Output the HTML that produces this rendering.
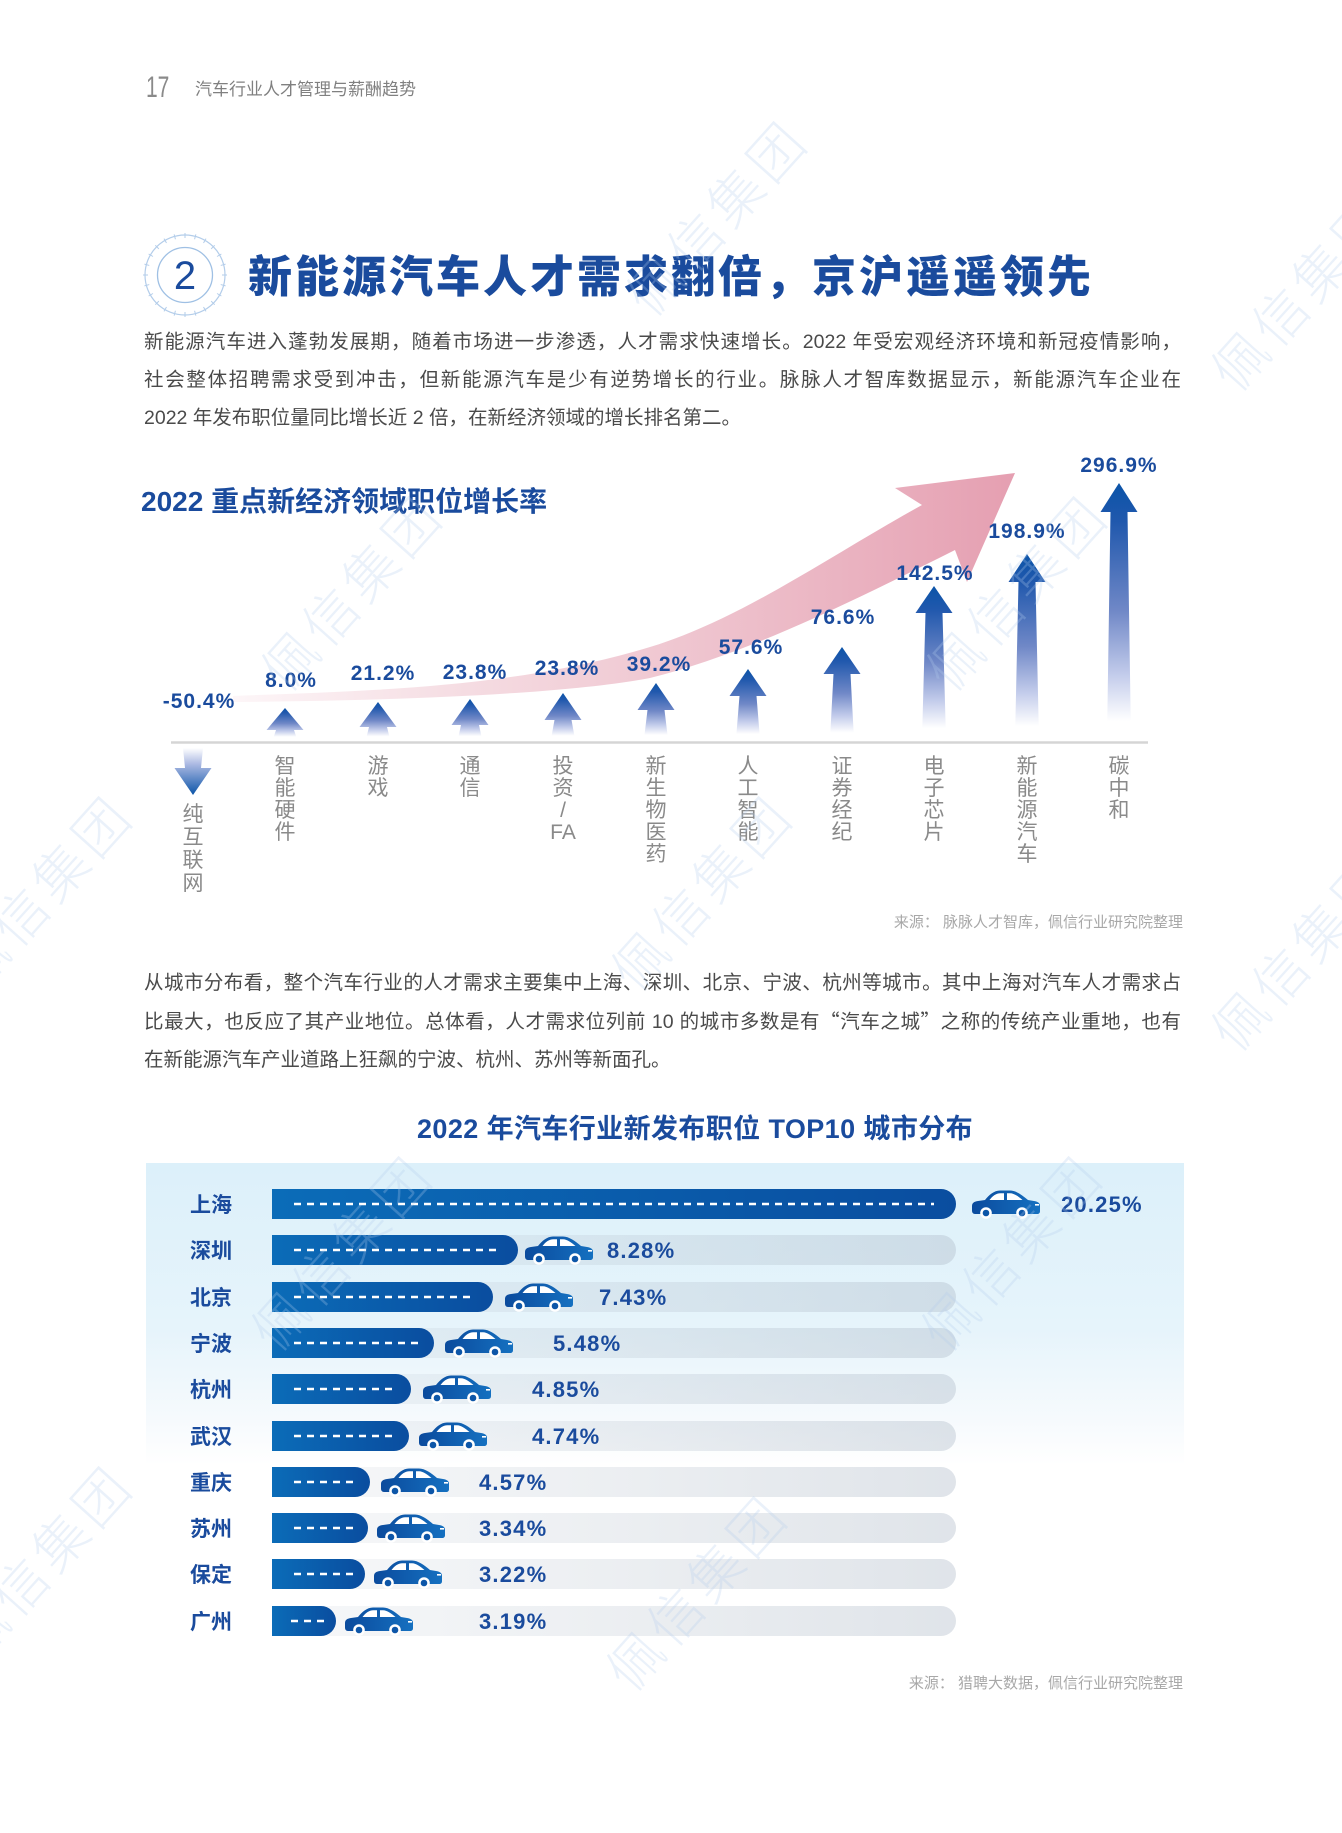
<!DOCTYPE html>
<html lang="zh">
<head>
<meta charset="utf-8">
<style>
  html,body{margin:0;padding:0;background:#fff;}
  body{width:1342px;height:1833px;position:relative;overflow:hidden;font-family:"Liberation Sans","Noto Sans CJK SC",sans-serif;}
  .abs{position:absolute;}
  .para{position:absolute;left:144px;width:1037px;font-size:19.5px;line-height:38px;color:#4a4a4a;font-family:"Liberation Sans","Noto Sans CJK SC",sans-serif;}
  .para div{height:38px;white-space:nowrap;}
  .para .j{text-align:justify;text-align-last:justify;}
  .q{font-family:"Noto Sans CJK SC",sans-serif;line-height:0;}
  .vl{position:absolute;width:40px;text-align:center;font-size:21px;line-height:22px;color:#8a8a8a;font-family:"Liberation Sans","Noto Sans CJK SC",sans-serif;}
  .wm{position:absolute;font-size:54px;line-height:54px;color:rgba(180,205,238,0.28);font-family:"Noto Sans CJK SC",sans-serif;font-weight:300;white-space:nowrap;transform:translate(-50%,-50%) rotate(-48deg);letter-spacing:6px;}
</style>
</head>
<body>

<!-- header -->
<div class="abs" style="left:146px;top:73px;font-size:30px;line-height:30px;color:#8a8a8a;font-weight:300;transform:scaleX(0.7);transform-origin:left top;">17</div>
<div class="abs" style="left:195px;top:80px;font-size:17px;line-height:20px;color:#808080;font-family:'Liberation Sans','Noto Sans CJK SC',sans-serif;">汽车行业人才管理与薪酬趋势</div>

<!-- title -->
<div class="abs" style="left:248px;top:253px;font-size:44px;line-height:50px;color:#1a4b9d;font-weight:900;letter-spacing:3px;white-space:nowrap;font-family:'Liberation Sans','Noto Sans CJK SC',sans-serif;">新能源汽车人才需求翻倍，京沪遥遥领先</div>

<div class="para" style="top:323px;">
  <div class="j">新能源汽车进入蓬勃发展期，随着市场进一步渗透，人才需求快速增长。2022 年受宏观经济环境和新冠疫情影响，</div>
  <div class="j">社会整体招聘需求受到冲击，但新能源汽车是少有逆势增长的行业。脉脉人才智库数据显示，新能源汽车企业在</div>
  <div>2022 年发布职位量同比增长近 2 倍，在新经济领域的增长排名第二。</div>
</div>

<!-- chart 1 title -->
<div class="abs" style="left:141px;top:485px;font-size:28px;line-height:34px;color:#1a4b9d;font-weight:700;white-space:nowrap;">2022 重点新经济领域职位增长率</div>

<!-- chart 2 background -->
<div class="abs" style="left:146px;top:1163px;width:1038px;height:302px;background:linear-gradient(to bottom,#dcf0fa 0%,#e6f4fb 55%,#f6fafd 85%,#ffffff 100%);"></div>

<!-- main svg -->
<svg class="abs" style="left:0;top:0;" width="1342" height="1833" viewBox="0 0 1342 1833" xmlns="http://www.w3.org/2000/svg">
  <defs>
    <linearGradient id="pink" gradientUnits="userSpaceOnUse" x1="233" y1="0" x2="1015" y2="0">
      <stop offset="0" stop-color="#fdf6f8"/>
      <stop offset="0.3" stop-color="#f5dce2"/>
      <stop offset="0.62" stop-color="#eec2cd"/>
      <stop offset="1" stop-color="#e59fb1"/>
    </linearGradient>
    <linearGradient id="up" x1="0" y1="0" x2="0" y2="1">
      <stop offset="0" stop-color="#0b54a8"/>
      <stop offset="0.15" stop-color="#2058ad"/>
      <stop offset="0.5" stop-color="#7088c7"/>
      <stop offset="0.75" stop-color="#c3cceb"/>
      <stop offset="0.93" stop-color="#ffffff"/>
    </linearGradient>
    <linearGradient id="down" x1="0" y1="0" x2="0" y2="1">
      <stop offset="0" stop-color="#ffffff"/>
      <stop offset="0.35" stop-color="#aab8e2"/>
      <stop offset="1" stop-color="#0b54a8"/>
    </linearGradient>
    <linearGradient id="fillg" x1="0" y1="0" x2="1" y2="0">
      <stop offset="0" stop-color="#0b6cb8"/>
      <stop offset="1" stop-color="#0a4d9f"/>
    </linearGradient>
    <linearGradient id="track" gradientUnits="userSpaceOnUse" x1="272" y1="0" x2="956" y2="0">
      <stop offset="0" stop-color="rgb(185,195,206)" stop-opacity="0.12"/>
      <stop offset="1" stop-color="rgb(172,184,198)" stop-opacity="0.38"/>
    </linearGradient>
    <linearGradient id="carg" x1="0" y1="0" x2="1" y2="0">
      <stop offset="0" stop-color="#0b4b9d"/>
      <stop offset="1" stop-color="#1570c0"/>
    </linearGradient>
    <symbol id="car" viewBox="0 0 68 30">
      <path fill="url(#carg)" d="M3,25 C1,25 0,23.5 0,21.5 L0,17 C0,14 2,12.5 6,12 L13,11 C17,6 22,1.5 28,1.5 L38,1.5 C44,1.5 50,6 56,11 L62,12 C66,12.7 68,14 68,17 L68,22 C68,24 67,25 65,25 Z"/>
      <path fill="#ffffff" d="M17.5,11 C20.5,7 24,4.2 28.5,4.2 L32,4.2 L32,11 Z M35,4.2 L38,4.2 C42,4.2 46.5,7.5 50.5,11 L35,11 Z"/>
      <rect x="63" y="15" width="4" height="1.6" fill="#ffffff"/>
      <circle cx="14" cy="24" r="5.8" fill="#ffffff"/><circle cx="14" cy="24" r="3.3" fill="#0d56a8"/>
      <circle cx="50" cy="24" r="5.8" fill="#ffffff"/><circle cx="50" cy="24" r="3.3" fill="#0d56a8"/>
    </symbol>
  </defs>

  <!-- section number circle -->
  <g stroke="#b3cdea" fill="none">
    <circle cx="185" cy="275" r="40" stroke-width="1.2"/>
    <circle cx="185" cy="275" r="27.5" stroke-width="1.3" stroke="#9fc0e4"/>
    <g stroke-width="1">
      <line x1="185" y1="233" x2="185" y2="238" transform="rotate(0 185 275)"/>
      <line x1="185" y1="233" x2="185" y2="238" transform="rotate(15 185 275)"/>
      <line x1="185" y1="233" x2="185" y2="238" transform="rotate(30 185 275)"/>
      <line x1="185" y1="233" x2="185" y2="238" transform="rotate(45 185 275)"/>
      <line x1="185" y1="233" x2="185" y2="238" transform="rotate(60 185 275)"/>
      <line x1="185" y1="233" x2="185" y2="238" transform="rotate(75 185 275)"/>
      <line x1="185" y1="233" x2="185" y2="238" transform="rotate(90 185 275)"/>
      <line x1="185" y1="233" x2="185" y2="238" transform="rotate(105 185 275)"/>
      <line x1="185" y1="233" x2="185" y2="238" transform="rotate(120 185 275)"/>
      <line x1="185" y1="233" x2="185" y2="238" transform="rotate(135 185 275)"/>
      <line x1="185" y1="233" x2="185" y2="238" transform="rotate(150 185 275)"/>
      <line x1="185" y1="233" x2="185" y2="238" transform="rotate(165 185 275)"/>
      <line x1="185" y1="233" x2="185" y2="238" transform="rotate(180 185 275)"/>
      <line x1="185" y1="233" x2="185" y2="238" transform="rotate(195 185 275)"/>
      <line x1="185" y1="233" x2="185" y2="238" transform="rotate(210 185 275)"/>
      <line x1="185" y1="233" x2="185" y2="238" transform="rotate(225 185 275)"/>
      <line x1="185" y1="233" x2="185" y2="238" transform="rotate(240 185 275)"/>
      <line x1="185" y1="233" x2="185" y2="238" transform="rotate(255 185 275)"/>
      <line x1="185" y1="233" x2="185" y2="238" transform="rotate(270 185 275)"/>
      <line x1="185" y1="233" x2="185" y2="238" transform="rotate(285 185 275)"/>
      <line x1="185" y1="233" x2="185" y2="238" transform="rotate(300 185 275)"/>
      <line x1="185" y1="233" x2="185" y2="238" transform="rotate(315 185 275)"/>
      <line x1="185" y1="233" x2="185" y2="238" transform="rotate(330 185 275)"/>
      <line x1="185" y1="233" x2="185" y2="238" transform="rotate(345 185 275)"/>
    </g>
  </g>
  <text x="185" y="289" text-anchor="middle" font-family="Liberation Sans, sans-serif" font-size="40" fill="#1a4b9d">2</text>

  <!-- pink curved arrow (smooth) -->
  <path fill="url(#pink)" d="M233,696 C372,690.4 511,688.7 650,647 C740,620 832,554.5 922,505 L895,488 L1015,473 L967,582 L955,550 C855,600 750,653 650,678 C560,695 380,701 233,702 Z"/>

  <!-- axis -->
  <line x1="171" y1="742.5" x2="1148" y2="742.5" stroke="#d5d5d5" stroke-width="2.5"/>

  <!-- up arrows -->
  <g fill="url(#up)">
    <path d="M285,708 L303.5,730 L294,730 L297,739 L273,739 L276,730 L266.5,730 Z"/>
    <path d="M378,702 L396.5,727 L387,727 L390,739 L366,739 L369,727 L359.5,727 Z"/>
    <path d="M470,699 L488.5,725 L479,725 L482,739 L458,739 L461,725 L451.5,725 Z"/>
    <path d="M563,693 L581.5,720 L571.5,720 L575,739 L551,739 L554.5,720 L544.5,720 Z"/>
    <path d="M656,683 L674.5,710 L664.5,710 L668,739 L644,739 L647.5,710 L637.5,710 Z"/>
    <path d="M748,669 L766.5,696 L756.5,696 L760,739 L736,739 L739.5,696 L729.5,696 Z"/>
    <path d="M842,647 L860.5,674 L850.5,674 L854,739 L830,739 L833.5,674 L823.5,674 Z"/>
    <path d="M934,586 L952.5,613 L942.5,613 L946,739 L922,739 L925.5,613 L915.5,613 Z"/>
    <path d="M1027,554 L1045.5,582 L1035.5,582 L1039,739 L1015,739 L1018.5,582 L1008.5,582 Z"/>
    <path d="M1119,483 L1137.5,512 L1127.5,512 L1131,739 L1107,739 L1110.5,512 L1100.5,512 Z"/>
  </g>
  <!-- down arrow -->
  <path fill="url(#down)" d="M183,748 L203,748 L201,768 L211.5,768 L193,795 L174.5,768 L185,768 Z"/>

  <!-- values -->
  <g font-family="Liberation Sans, sans-serif" font-size="21" font-weight="700" fill="#1a4b9d" text-anchor="middle" letter-spacing="1">
    <text x="199" y="708">-50.4%</text>
    <text x="291" y="687">8.0%</text>
    <text x="383" y="680">21.2%</text>
    <text x="475" y="679">23.8%</text>
    <text x="567" y="675">23.8%</text>
    <text x="659" y="671">39.2%</text>
    <text x="751" y="654">57.6%</text>
    <text x="843" y="624">76.6%</text>
    <text x="935" y="580">142.5%</text>
    <text x="1027" y="538">198.9%</text>
    <text x="1119" y="472">296.9%</text>
  </g>

  <!-- source 1 -->
  <text x="1183" y="927" text-anchor="end" font-family="Liberation Sans, Noto Sans CJK SC, sans-serif" font-size="15" fill="#a8a8a8">来源： 脉脉人才智库，佩信行业研究院整理</text>

  <!-- chart 2 title -->
  <text x="417" y="1138" font-family="Liberation Sans, Noto Sans CJK SC, sans-serif" font-size="27" font-weight="700" fill="#1a4b9d" letter-spacing="0.4">2022 年汽车行业新发布职位 TOP10 城市分布</text>

  <!-- bars -->
  <g>
    <!-- tracks -->
    <g fill="url(#track)">
      <path d="M272,1189 H941 A15,15 0 0 1 941,1219 H272 Z"/>
      <path d="M272,1235 H941 A15,15 0 0 1 941,1265 H272 Z"/>
      <path d="M272,1282 H941 A15,15 0 0 1 941,1312 H272 Z"/>
      <path d="M272,1328 H941 A15,15 0 0 1 941,1358 H272 Z"/>
      <path d="M272,1374 H941 A15,15 0 0 1 941,1404 H272 Z"/>
      <path d="M272,1421 H941 A15,15 0 0 1 941,1451 H272 Z"/>
      <path d="M272,1467 H941 A15,15 0 0 1 941,1497 H272 Z"/>
      <path d="M272,1513 H941 A15,15 0 0 1 941,1543 H272 Z"/>
      <path d="M272,1559 H941 A15,15 0 0 1 941,1589 H272 Z"/>
      <path d="M272,1606 H941 A15,15 0 0 1 941,1636 H272 Z"/>
    </g>
    <!-- fills -->
    <g fill="url(#fillg)">
      <path d="M272,1189 H941 A15,15 0 0 1 941,1219 H272 Z"/>
      <path d="M272,1235 H503 A15,15 0 0 1 503,1265 H272 Z"/>
      <path d="M272,1282 H478 A15,15 0 0 1 478,1312 H272 Z"/>
      <path d="M272,1328 H419 A15,15 0 0 1 419,1358 H272 Z"/>
      <path d="M272,1374 H396 A15,15 0 0 1 396,1404 H272 Z"/>
      <path d="M272,1421 H394 A15,15 0 0 1 394,1451 H272 Z"/>
      <path d="M272,1467 H355 A15,15 0 0 1 355,1497 H272 Z"/>
      <path d="M272,1513 H353 A15,15 0 0 1 353,1543 H272 Z"/>
      <path d="M272,1559 H350 A15,15 0 0 1 350,1589 H272 Z"/>
      <path d="M272,1606 H321 A15,15 0 0 1 321,1636 H272 Z"/>
    </g>
    <!-- dashes -->
    <g stroke="#ffffff" stroke-width="2.6" stroke-dasharray="7 6">
      <line x1="294" y1="1204" x2="934" y2="1204"/>
      <line x1="294" y1="1250" x2="496" y2="1250"/>
      <line x1="294" y1="1297" x2="470" y2="1297"/>
      <line x1="294" y1="1343" x2="418" y2="1343"/>
      <line x1="294" y1="1389" x2="392" y2="1389"/>
      <line x1="294" y1="1436" x2="392" y2="1436"/>
      <line x1="294" y1="1482" x2="353" y2="1482"/>
      <line x1="294" y1="1528" x2="353" y2="1528"/>
      <line x1="294" y1="1574" x2="353" y2="1574"/>
      <line x1="291" y1="1621" x2="324" y2="1621"/>
    </g>
    <!-- cars -->
    <use href="#car" x="972" y="1189" width="68" height="30"/>
    <use href="#car" x="525" y="1235" width="68" height="30"/>
    <use href="#car" x="505" y="1282" width="68" height="30"/>
    <use href="#car" x="445" y="1328" width="68" height="30"/>
    <use href="#car" x="423" y="1374" width="68" height="30"/>
    <use href="#car" x="419" y="1421" width="68" height="30"/>
    <use href="#car" x="381" y="1467" width="68" height="30"/>
    <use href="#car" x="377" y="1513" width="68" height="30"/>
    <use href="#car" x="374" y="1559" width="68" height="30"/>
    <use href="#car" x="345" y="1606" width="68" height="30"/>
    <!-- city labels -->
    <g font-family="Liberation Sans, Noto Sans CJK SC, sans-serif" font-size="21" font-weight="700" fill="#1a4b9d">
      <text x="190" y="1212">上海</text>
      <text x="190" y="1258">深圳</text>
      <text x="190" y="1305">北京</text>
      <text x="190" y="1351">宁波</text>
      <text x="190" y="1397">杭州</text>
      <text x="190" y="1444">武汉</text>
      <text x="190" y="1490">重庆</text>
      <text x="190" y="1536">苏州</text>
      <text x="190" y="1582">保定</text>
      <text x="190" y="1629">广州</text>
    </g>
    <!-- percentages -->
    <g font-family="Liberation Sans, sans-serif" font-size="22" font-weight="700" fill="#1a4b9d" letter-spacing="1.2">
      <text x="1061" y="1212">20.25%</text>
      <text x="607" y="1258">8.28%</text>
      <text x="599" y="1305">7.43%</text>
      <text x="553" y="1351">5.48%</text>
      <text x="532" y="1397">4.85%</text>
      <text x="532" y="1444">4.74%</text>
      <text x="479" y="1490">4.57%</text>
      <text x="479" y="1536">3.34%</text>
      <text x="479" y="1582">3.22%</text>
      <text x="479" y="1629">3.19%</text>
    </g>
  </g>

  <!-- source 2 -->
  <text x="1183" y="1688" text-anchor="end" font-family="Liberation Sans, Noto Sans CJK SC, sans-serif" font-size="15" fill="#a8a8a8">来源： 猎聘大数据，佩信行业研究院整理</text>
</svg>

<!-- vertical category labels -->
<div class="vl" style="left:173px;top:803px;line-height:23px;">纯<br>互<br>联<br>网</div>
<div class="vl" style="left:265px;top:756px;">智<br>能<br>硬<br>件</div>
<div class="vl" style="left:358px;top:756px;">游<br>戏</div>
<div class="vl" style="left:450px;top:756px;">通<br>信</div>
<div class="vl" style="left:543px;top:756px;">投<br>资<br>/<br>FA</div>
<div class="vl" style="left:636px;top:756px;">新<br>生<br>物<br>医<br>药</div>
<div class="vl" style="left:728px;top:756px;">人<br>工<br>智<br>能</div>
<div class="vl" style="left:822px;top:756px;">证<br>券<br>经<br>纪</div>
<div class="vl" style="left:914px;top:756px;">电<br>子<br>芯<br>片</div>
<div class="vl" style="left:1007px;top:756px;">新<br>能<br>源<br>汽<br>车</div>
<div class="vl" style="left:1099px;top:756px;">碳<br>中<br>和</div>

<!-- paragraph 2 -->
<div class="para" style="top:964px;line-height:38.5px;">
  <div class="j" style="height:38.5px;">从城市分布看，整个汽车行业的人才需求主要集中上海、深圳、北京、宁波、杭州等城市。其中上海对汽车人才需求占</div>
  <div class="j" style="height:38.5px;">比最大，也反应了其产业地位。总体看，人才需求位列前 10 的城市多数是有<span class="q">“</span>汽车之城<span class="q">”</span>之称的传统产业重地，也有</div>
  <div style="height:38.5px;">在新能源汽车产业道路上狂飙的宁波、杭州、苏州等新面孔。</div>
</div>

<!-- watermarks -->
<div class="wm" style="left:715px;top:215px;">佩信集团</div>
<div class="wm" style="left:1300px;top:290px;">佩信集团</div>
<div class="wm" style="left:350px;top:590px;">佩信集团</div>
<div class="wm" style="left:1015px;top:590px;">佩信集团</div>
<div class="wm" style="left:40px;top:890px;">佩信集团</div>
<div class="wm" style="left:700px;top:890px;">佩信集团</div>
<div class="wm" style="left:1300px;top:950px;">佩信集团</div>
<div class="wm" style="left:340px;top:1250px;">佩信集团</div>
<div class="wm" style="left:1010px;top:1250px;">佩信集团</div>
<div class="wm" style="left:40px;top:1560px;">佩信集团</div>
<div class="wm" style="left:695px;top:1590px;">佩信集团</div>

</body>
</html>
